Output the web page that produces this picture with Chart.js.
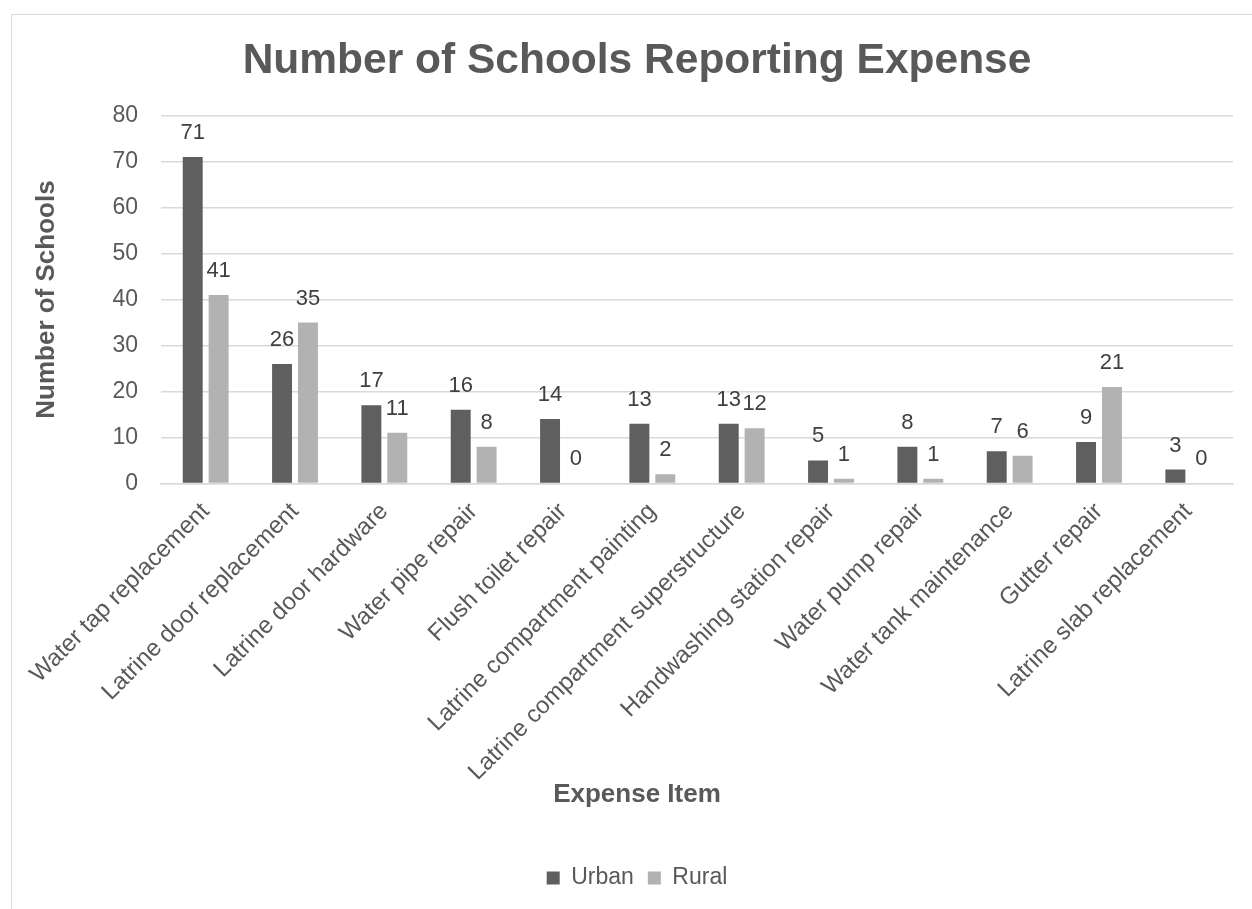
<!DOCTYPE html>
<html>
<head>
<meta charset="utf-8">
<script src="https://cdn.jsdelivr.net/npm/chart.js@4/dist/chart.umd.min.js"></script>
<style>
    body { margin: 0; background: #fff; overflow: hidden; }
    .frame {
        position: absolute; left: 11px; top: 14px; width: 1260px; height: 920px;
        border: 1.5px solid #d9d9d9; box-sizing: border-box;
    }
    .wrap { position: absolute; left: 0; top: 0; width: 1252px; height: 909px; }
</style>
</head>
<body>
<div class="frame"></div>
<div class="wrap"><canvas id="chart" width="1252" height="909"></canvas></div>
<script>
    // Datos
    const categories = [
        'Water tap replacement', 'Latrine door replacement', 'Latrine door hardware',
        'Water pipe repair', 'Flush toilet repair', 'Latrine compartment painting',
        'Latrine compartment superstructure', 'Handwashing station repair',
        'Water pump repair', 'Water tank maintenance', 'Gutter repair', 'Latrine slab replacement'
    ];
    const urban = [71, 26, 17, 16, 14, 13, 13, 5, 8, 7, 9, 3];
    const rural = [41, 35, 11, 8, 0, 2, 12, 1, 1, 6, 21, 0];
    const yTicks = { min: 0, max: 80, step: 10 };

    Chart.defaults.font.family = "'Liberation Sans', Arial, sans-serif";
    Chart.defaults.color = '#595959';

    // etiquetas de valor sobre las barras
    const valueLabels = {
        id: 'valueLabels',
        afterDatasetsDraw(chart) {
            const ctx = chart.ctx;
            ctx.save();
            ctx.font = "22px 'Liberation Sans', Arial, sans-serif";
            ctx.fillStyle = '#404040';
            ctx.textAlign = 'center';
            ctx.textBaseline = 'middle';
            chart.data.datasets.forEach((ds, i) => {
                chart.getDatasetMeta(i).data.forEach((bar, j) => {
                    ctx.fillText(ds.data[j], bar.x, bar.y - 24);
                });
            });
            ctx.restore();
        }
    };

    new Chart(document.getElementById('chart'), {
        type: 'bar',
        data: {
            labels: categories,
            datasets: [
                { label: 'Urban', data: urban, backgroundColor: '#5f5f5f',
                  categoryPercentage: 0.58, barPercentage: 0.77 },
                { label: 'Rural', data: rural, backgroundColor: '#b2b2b2',
                  categoryPercentage: 0.58, barPercentage: 0.77 }
            ]
        },
        plugins: [valueLabels],
        options: {
            responsive: false,
            animation: false,
            layout: { padding: { left: 41, right: 19, top: 14, bottom: 9.5 } },
            plugins: {
                title: {
                    display: true,
                    text: 'Number of Schools Reporting Expense',
                    color: '#595959',
                    font: { size: 42.5, weight: 'bold' },
                    padding: { top: 22, bottom: 28.7 }
                },
                // titulo del eje X centrado en todo el gráfico
                subtitle: {
                    display: true,
                    position: 'bottom',
                    weight: 500,
                    text: 'Expense Item',
                    color: '#595959',
                    font: { size: 26, weight: 'bold' },
                    padding: { top: -4, bottom: 41.9 }
                },
                legend: {
                    position: 'bottom',
                    weight: 1000,
                    labels: {
                        boxWidth: 13, boxHeight: 13, color: '#595959',
                        font: { size: 23 }, padding: 14
                    }
                },
                tooltip: { enabled: false }
            },
            scales: {
                y: {
                    min: yTicks.min, max: yTicks.max,
                    afterFit: (s) => { s.width = 120; },
                    ticks: { stepSize: yTicks.step, font: { size: 23 }, color: '#595959', padding: 23 },
                    grid: { color: '#d9d9d9', lineWidth: 1.5, drawTicks: false },
                    border: { display: false },
                    title: {
                        display: true, text: 'Number of Schools', color: '#595959',
                        font: { size: 26, weight: 'bold' }, padding: { top: -10, bottom: 0 }
                    }
                },
                x: {
                    afterFit: (s) => { s.height = 300; },
                    ticks: { font: { size: 24 }, color: '#595959', minRotation: 45, maxRotation: 45,
                             padding: 6, autoSkip: false },
                    grid: { display: false },
                    border: { color: '#d9d9d9', width: 1.5 }
                }
            }
        }
    });
</script>
</body>
</html>
